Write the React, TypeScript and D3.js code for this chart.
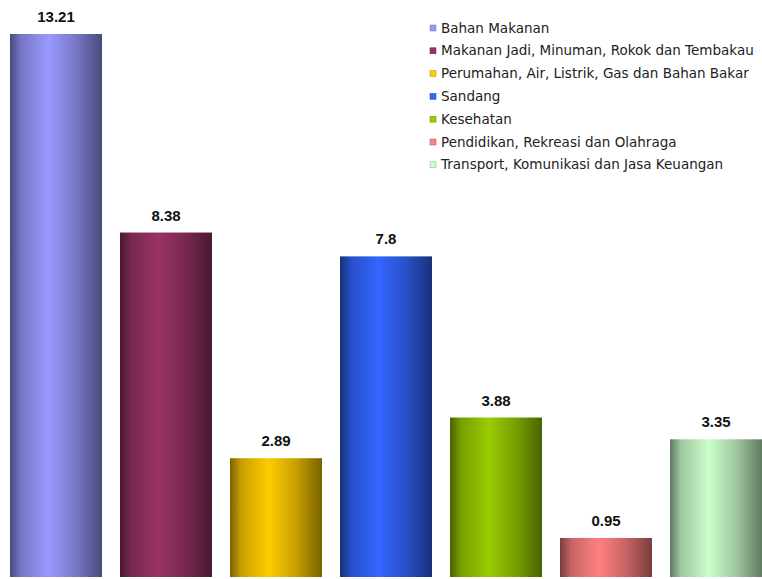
import React from "react";
import * as d3 from "d3";

const categories = [
  "Bahan Makanan",
  "Makanan Jadi, Minuman, Rokok dan Tembakau",
  "Perumahan, Air, Listrik, Gas dan Bahan Bakar",
  "Sandang",
  "Kesehatan",
  "Pendidikan, Rekreasi dan Olahraga",
  "Transport, Komunikasi dan Jasa Keuangan",
];
const values = [13.21, 8.38, 2.89, 7.8, 3.88, 0.95, 3.35];
const labels = ["13.21", "8.38", "2.89", "7.8", "3.88", "0.95", "3.35"];
const colors = ["#9999FF", "#993366", "#FFCC00", "#3366FF", "#99CC00", "#FF8080", "#CCFFCC"];

const W = 762;
const H = 579;

export default function App() {
  const x = d3
    .scaleBand<number>()
    .domain(d3.range(values.length))
    .range([10 - 9, 10 + 7 * 110 - 9])
    .paddingInner(18 / 110)
    .paddingOuter(9 / 110);
  const y = d3.scaleLinear().domain([0, 13.21]).range([577, 34]);
  return (
    <div style={{ position: "absolute", left: 0, top: 0 }}>
      <svg width={W} height={H} style={{ display: "block" }}>
        <defs>
          {colors.map((c, i) => {
            const dark = d3.interpolateRgb(c, "#000")(0.52);
            const mid = d3.interpolateRgb(c, "#000")(0.22);
            return (
              <linearGradient key={i} id={`g${i}`} x1="0" x2="1" y1="0" y2="0">
                <stop offset="0" stopColor={dark} />
                <stop offset="0.12" stopColor={mid} />
                <stop offset="0.42" stopColor={c} />
                <stop offset="0.72" stopColor={mid} />
                <stop offset="1" stopColor={dark} />
              </linearGradient>
            );
          })}
        </defs>
        <rect width={W} height={H} fill="#fff" />
        {values.map((v, i) => {
          const bx = x(i) as number;
          const bw = x.bandwidth();
          return (
            <g key={i}>
              <rect x={bx} y={y(v)} width={bw} height={y(0) - y(v)} fill={`url(#g${i})`} />
              <text
                x={bx + bw / 2}
                y={y(v) - 12}
                textAnchor="middle"
                fontFamily="Liberation Sans, Arial, sans-serif"
                fontWeight="bold"
                fontSize={15}
                fill="#111"
              >
                {labels[i]}
              </text>
            </g>
          );
        })}
        {categories.map((c, i) => (
          <g key={c} transform={`translate(430, ${28 + i * 22.8})`}>
            <rect
              x={0}
              y={-3}
              width={6}
              height={6}
              fill={colors[i]}
              stroke={d3.interpolateRgb(colors[i], "#000")(0.3)}
              strokeWidth={0.5}
            />
            <text x={11} y={4.5} fontFamily="DejaVu Sans, Verdana, sans-serif" fontSize={13.5} fill="#222">
              {c}
            </text>
          </g>
        ))}
      </svg>
    </div>
  );
}
